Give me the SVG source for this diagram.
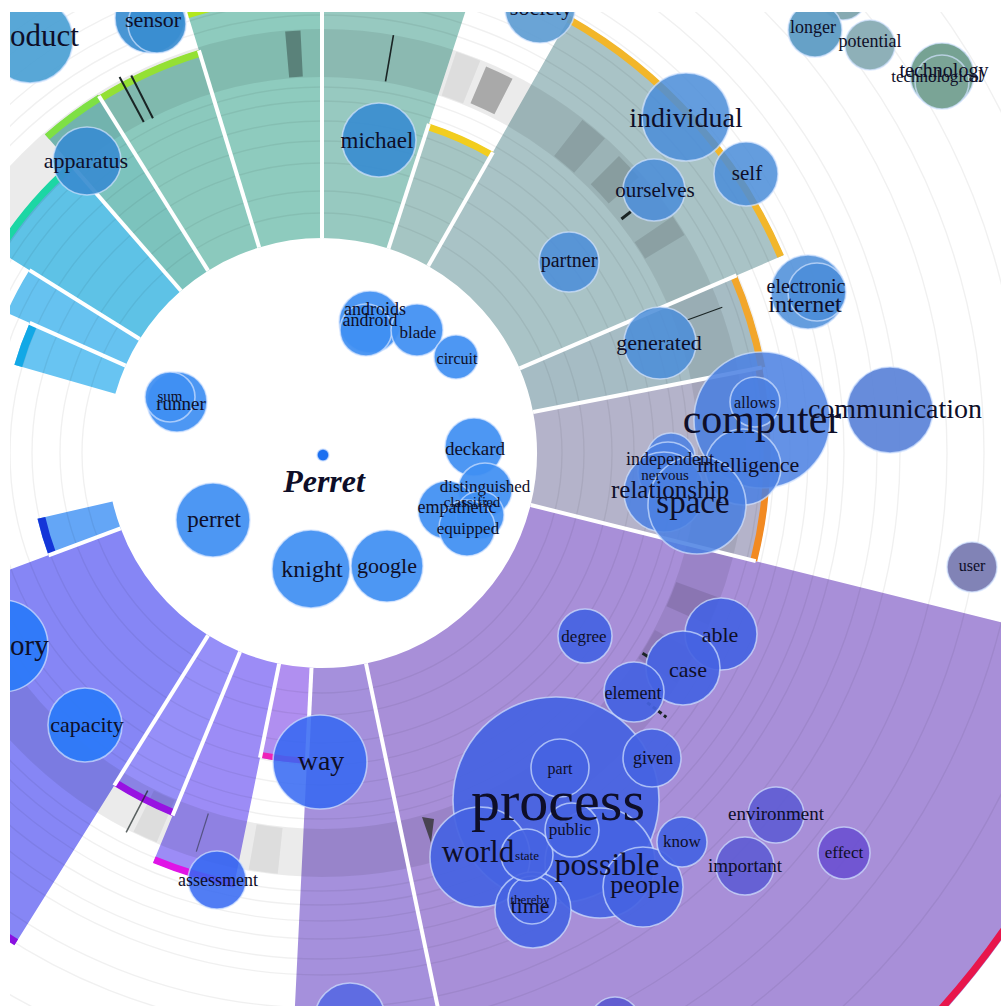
<svg xmlns="http://www.w3.org/2000/svg" width="1001" height="1006" viewBox="0 0 1001 1006">
<style>
.t{font-family:"Liberation Serif","Times New Roman","DejaVu Serif",serif;fill:#0e0e28;text-anchor:middle}
.nd circle{stroke:#d2e2ff;stroke-opacity:.7;stroke-width:1.6}
.b1{fill:#3f8ff2;fill-opacity:.93}
.b2{fill:#3a8dd0;fill-opacity:.92}
.b3{fill:#4a8dd8;fill-opacity:.86}
.b4{fill:#4a80e2;fill-opacity:.86}
.b5{fill:#4563e2;fill-opacity:.92}
.b6{fill:#5e5cd4;fill-opacity:.9}
.b8{fill:#3468f2;fill-opacity:.86}
.b9{fill:#2a7af8;fill-opacity:.92}
.sep line{stroke:#fff;stroke-width:4}
.mk line{stroke:#1a2424}
</style>
<rect width="1001" height="1006" fill="#fff"/>
<g id="wedges" fill="none">
<circle cx="322" cy="453" r="525.5" stroke="#a88fd8" stroke-width="621" stroke-dasharray="588.8 9999" transform="rotate(14 322 453)"/>
<circle cx="322" cy="453" r="457.5" stroke="#a590dc" stroke-width="485" stroke-dasharray="116.6 9999" transform="rotate(78.2 322 453)"/>
<circle cx="322" cy="453" r="263" stroke="#b08ff0" stroke-width="96" stroke-dasharray="39.9 9999" transform="rotate(92.8 322 453)"/>
<circle cx="322" cy="453" r="329" stroke="#9c8cf6" stroke-width="228" stroke-dasharray="62.6 9999" transform="rotate(101.5 322 453)"/>
<circle cx="322" cy="453" r="303.5" stroke="#968ff8" stroke-width="177" stroke-dasharray="50.85 9999" transform="rotate(112.4 322 453)"/>
<circle cx="322" cy="453" r="397.5" stroke="#8686f5" stroke-width="365" stroke-dasharray="260.2 9999" transform="rotate(122 322 453)"/>
<circle cx="322" cy="453" r="253.5" stroke="#64a6f6" stroke-width="77" stroke-dasharray="33.2 9999" transform="rotate(159.5 322 453)"/>
<circle cx="322" cy="453" r="267.5" stroke="#68c4f2" stroke-width="105" stroke-dasharray="37.35 9999" transform="rotate(-164 322 453)"/>
<circle cx="322" cy="453" r="280" stroke="#66c2f0" stroke-width="130" stroke-dasharray="39.1 9999" transform="rotate(-156 322 453)"/>
<circle cx="322" cy="453" r="299.5" stroke="#5ec2e6" stroke-width="169" stroke-dasharray="88.9 9999" transform="rotate(-148 322 453)"/>
<circle cx="322" cy="453" r="318.5" stroke="#7cc3bd" stroke-width="207" stroke-dasharray="50 9999" transform="rotate(-131 322 453)"/>
<circle cx="322" cy="453" r="318" stroke="#8bc9bd" stroke-width="206" stroke-dasharray="83.3 9999" transform="rotate(-122 322 453)"/>
<circle cx="322" cy="453" r="335.5" stroke="#8ecbbe" stroke-width="241" stroke-dasharray="99.5 9999" transform="rotate(-107 322 453)"/>
<circle cx="322" cy="453" r="347.5" stroke="#97c9c0" stroke-width="265" stroke-dasharray="109.2 9999" transform="rotate(-90 322 453)"/>
<circle cx="322" cy="453" r="280.5" stroke="#a5c5c3" stroke-width="131" stroke-dasharray="56.8 9999" transform="rotate(-72 322 453)"/>
<circle cx="322" cy="453" r="358.5" stroke="#a9c3c6" stroke-width="287" stroke-dasharray="232.8 9999" transform="rotate(-60.4 322 453)"/>
<circle cx="322" cy="453" r="333" stroke="#a6bcc4" stroke-width="236" stroke-dasharray="70.9 9999" transform="rotate(-23.2 322 453)"/>
<circle cx="322" cy="453" r="331.5" stroke="#b4b3ca" stroke-width="233" stroke-dasharray="144.7 9999" transform="rotate(-11 322 453)"/>
</g>
<g id="rings" fill="none" stroke="#000" stroke-opacity=".06" stroke-width="1.4">
<circle cx="322" cy="453" r="240"/><circle cx="322" cy="453" r="262"/><circle cx="322" cy="453" r="290"/>
<circle cx="322" cy="453" r="312"/><circle cx="322" cy="453" r="332"/><circle cx="322" cy="453" r="352"/>
<circle cx="322" cy="453" r="366"/><circle cx="322" cy="453" r="438"/><circle cx="322" cy="453" r="452"/>
<circle cx="322" cy="453" r="468"/><circle cx="322" cy="453" r="486"/><circle cx="322" cy="453" r="506"/>
<circle cx="322" cy="453" r="522"/><circle cx="322" cy="453" r="555"/><circle cx="322" cy="453" r="578"/>
<circle cx="322" cy="453" r="625"/><circle cx="322" cy="453" r="662"/><circle cx="322" cy="453" r="700"/>
<circle cx="322" cy="453" r="760"/><circle cx="322" cy="453" r="830"/><circle cx="322" cy="453" r="900"/>
</g>
<g id="band" fill="none" stroke="#000">
<circle cx="322" cy="453" r="400" stroke-opacity=".08" stroke-width="48"/>
<circle cx="322" cy="453" r="400" stroke-opacity=".3" stroke-width="46" stroke-dasharray="14.7 9999" transform="rotate(-95 322 453)"/>
<circle cx="322" cy="453" r="400" stroke-opacity=".06" stroke-width="46" stroke-dasharray="24.4 9999" transform="rotate(-71.5 322 453)"/>
<circle cx="322" cy="453" r="400" stroke-opacity=".28" stroke-width="40" stroke-dasharray="27.9 9999" transform="rotate(-67 322 453)"/>
<circle cx="322" cy="453" r="400" stroke-opacity=".1" stroke-width="46" stroke-dasharray="27.9 9999" transform="rotate(-52 322 453)"/>
<circle cx="322" cy="453" r="400" stroke-opacity=".12" stroke-width="40" stroke-dasharray="27.9 9999" transform="rotate(-45 322 453)"/>
<circle cx="322" cy="453" r="400" stroke-opacity=".1" stroke-width="46" stroke-dasharray="20.9 9999" transform="rotate(-34 322 453)"/>
<circle cx="322" cy="453" r="400" stroke-opacity=".1" stroke-width="46" stroke-dasharray="27.9 9999" transform="rotate(20 322 453)"/>
<circle cx="322" cy="453" r="400" stroke-opacity=".08" stroke-width="46" stroke-dasharray="34.9 9999" transform="rotate(28 322 453)"/>
<circle cx="322" cy="453" r="400" stroke-opacity=".06" stroke-width="46" stroke-dasharray="24.4 9999" transform="rotate(113 322 453)"/>
<circle cx="322" cy="453" r="400" stroke-opacity=".06" stroke-width="46" stroke-dasharray="27.9 9999" transform="rotate(96 322 453)"/>
</g>
<g id="arcs" fill="none">
<circle cx="322" cy="453" r="832" stroke="#e8164c" stroke-width="7" stroke-dasharray="933.4 9999" transform="rotate(14 322 453)"/>
<circle cx="322" cy="453" r="308" stroke="#ee22b8" stroke-width="6" stroke-dasharray="46.8 9999" transform="rotate(92.8 322 453)"/>
<circle cx="322" cy="453" r="440" stroke="#e014e6" stroke-width="7" stroke-dasharray="83.7 9999" transform="rotate(101.5 322 453)"/>
<circle cx="322" cy="453" r="389" stroke="#9812e2" stroke-width="7" stroke-dasharray="65.2 9999" transform="rotate(112.4 322 453)"/>
<circle cx="322" cy="453" r="577" stroke="#8a10e0" stroke-width="7" stroke-dasharray="377.7 9999" transform="rotate(122 322 453)"/>
<circle cx="322" cy="453" r="288" stroke="#1436d8" stroke-width="8" stroke-dasharray="37.7 9999" transform="rotate(159.5 322 453)"/>
<circle cx="322" cy="453" r="316" stroke="#12a8e6" stroke-width="8" stroke-dasharray="44.1 9999" transform="rotate(-164 322 453)"/>
<circle cx="322" cy="453" r="381" stroke="#1cd6a4" stroke-width="7" stroke-dasharray="113 9999" transform="rotate(-148 322 453)"/>
<circle cx="322" cy="453" r="419" stroke="#7ee044" stroke-width="7" stroke-dasharray="65.8 9999" transform="rotate(-131 322 453)"/>
<circle cx="322" cy="453" r="418" stroke="#94e034" stroke-width="7" stroke-dasharray="109.4 9999" transform="rotate(-122 322 453)"/>
<circle cx="322" cy="453" r="458" stroke="#b2e81c" stroke-width="6" stroke-dasharray="135.9 9999" transform="rotate(-107 322 453)"/>
<circle cx="322" cy="453" r="343" stroke="#f2cd1e" stroke-width="7" stroke-dasharray="69.4 9999" transform="rotate(-72 322 453)"/>
<circle cx="322" cy="453" r="499" stroke="#f2b62a" stroke-width="7" stroke-dasharray="324 9999" transform="rotate(-60.4 322 453)"/>
<circle cx="322" cy="453" r="448" stroke="#f2a62a" stroke-width="7" stroke-dasharray="95.4 9999" transform="rotate(-23.2 322 453)"/>
<circle cx="322" cy="453" r="445" stroke="#f28a22" stroke-width="7" stroke-dasharray="194.2 9999" transform="rotate(-11 322 453)"/>
</g>
<g id="connectors" class="sep">
<line x1="537" y1="453" x2="769" y2="453" transform="rotate(14 322 453)"/>
<line x1="537" y1="453" x2="1042" y2="453" transform="rotate(78.2 322 453)"/>
<line x1="537" y1="453" x2="633" y2="453" transform="rotate(92.8 322 453)"/>
<line x1="537" y1="453" x2="633" y2="453" transform="rotate(101.5 322 453)"/>
<line x1="537" y1="453" x2="714" y2="453" transform="rotate(112.4 322 453)"/>
<line x1="537" y1="453" x2="714" y2="453" transform="rotate(122 322 453)"/>
<line x1="537" y1="453" x2="614" y2="453" transform="rotate(159.5 322 453)"/>
<line x1="537" y1="453" x2="642" y2="453" transform="rotate(-156 322 453)"/>
<line x1="537" y1="453" x2="667" y2="453" transform="rotate(-148 322 453)"/>
<line x1="537" y1="453" x2="706" y2="453" transform="rotate(-131 322 453)"/>
<line x1="537" y1="453" x2="743" y2="453" transform="rotate(-122 322 453)"/>
<line x1="537" y1="453" x2="743" y2="453" transform="rotate(-107 322 453)"/>
<line x1="537" y1="453" x2="778" y2="453" transform="rotate(-90 322 453)"/>
<line x1="537" y1="453" x2="668" y2="453" transform="rotate(-72 322 453)"/>
<line x1="537" y1="453" x2="668" y2="453" transform="rotate(-60.4 322 453)"/>
<line x1="537" y1="453" x2="773" y2="453" transform="rotate(-23.2 322 453)"/>
<line x1="537" y1="453" x2="770" y2="453" transform="rotate(-11 322 453)"/>
</g>
<g id="marks" class="mk">
<line x1="699" y1="453" x2="746" y2="453" stroke-width="1.6" transform="rotate(-80.3 322 453)"/>
<line x1="698" y1="453" x2="749" y2="453" stroke-width="2" transform="rotate(-118.3 322 453)"/>
<line x1="697" y1="453" x2="745" y2="453" stroke-width="2" transform="rotate(-116.8 322 453)"/>
<line x1="710" y1="453" x2="748" y2="453" stroke-width="1.2" transform="rotate(-20 322 453)"/>
<line x1="702" y1="453" x2="714" y2="453" stroke-width="3" transform="rotate(-38 322 453)"/>
<line x1="700" y1="453" x2="708" y2="453" stroke-width="3" transform="rotate(32 322 453)"/>
<line x1="732" y1="453" x2="756" y2="453" stroke-width="3" stroke-dasharray="4 3" transform="rotate(37.5 322 453)"/>
<line x1="702" y1="453" x2="749" y2="453" stroke-width="1.5" stroke-opacity=".7" transform="rotate(117.3 322 453)"/>
<line x1="700" y1="453" x2="740" y2="453" stroke-width="1.2" stroke-opacity=".5" transform="rotate(107.5 322 453)"/>
<polygon points="422,817 434,819 431,843" fill="#333" fill-opacity=".8"/>
</g>
<circle cx="322" cy="453" r="213" fill="#fff"/>
<g id="nodes" class="nd">
<g id="node-product"><circle cx="30" cy="40" r="43" fill="#4aa0d4" fill-opacity=".92"/></g>
<g id="node-sensor"><circle cx="150" cy="18" r="35" class="b2"/><circle cx="157" cy="24" r="29" class="b2"/></g>
<g id="node-apparatus"><circle cx="87" cy="161" r="34" class="b2"/></g>
<g id="node-michael"><circle cx="379" cy="140" r="37" class="b2"/></g>
<g id="node-society"><circle cx="540" cy="8" r="35" fill="#5a9ad2" fill-opacity=".9"/></g>
<g id="node-individual"><circle cx="686" cy="117" r="44" class="b3"/></g>
<g id="node-self"><circle cx="746" cy="174" r="32" class="b3"/></g>
<g id="node-ourselves"><circle cx="654" cy="190" r="31" class="b3"/></g>
<g id="node-partner"><circle cx="569" cy="262" r="30" class="b3"/></g>
<g id="node-generated"><circle cx="660" cy="343" r="36" class="b3"/></g>
<g id="node-electronic"><circle cx="808" cy="292" r="37" class="b3"/><circle cx="817" cy="292" r="29" class="b3"/></g>
<g id="node-top"><circle cx="843" cy="-4" r="24" fill="#86aab2"/></g>
<g id="node-longer"><circle cx="815" cy="30" r="27" fill="#5e9cc4" fill-opacity=".95"/></g>
<g id="node-potential"><circle cx="870" cy="45" r="25" fill="#88acb4" fill-opacity=".95"/></g>
<g id="node-technology"><circle cx="942" cy="75" r="32" fill="#6a9a8a" fill-opacity=".92"/><circle cx="942" cy="82" r="27" fill="#7aa496"/></g>
<g id="node-communication"><circle cx="890" cy="410" r="43" fill="#5a82d8" fill-opacity=".92"/></g>
<g id="node-computer"><circle cx="762" cy="420" r="68" class="b4"/></g>
<g id="node-allows"><circle cx="755" cy="402" r="25" class="b4"/></g>
<g id="node-intelligence"><circle cx="743" cy="467" r="38" class="b4"/></g>
<g id="node-independent"><circle cx="671" cy="457" r="24" class="b4"/></g>
<g id="node-nervous"><circle cx="668" cy="472" r="30" class="b4"/></g>
<g id="node-relationship"><circle cx="664" cy="492" r="40" class="b4"/></g>
<g id="node-space"><circle cx="697" cy="505" r="49" class="b4"/></g>
<g id="node-user"><circle cx="972" cy="567" r="25" fill="#7a7cb2" fill-opacity=".95"/></g>
<g id="node-degree"><circle cx="585" cy="636" r="27" class="b5"/></g>
<g id="node-able"><circle cx="721" cy="634" r="36" class="b5"/></g>
<g id="node-case"><circle cx="683" cy="668" r="37" class="b5"/></g>
<g id="node-element"><circle cx="634" cy="692" r="30" class="b5"/></g>
<g id="node-process"><circle cx="556" cy="800" r="103" class="b5"/></g>
<g id="node-possible"><circle cx="600" cy="863" r="55" class="b5"/></g>
<g id="node-world"><circle cx="480" cy="857" r="50" class="b5"/></g>
<g id="node-people"><circle cx="643" cy="887" r="40" class="b5"/></g>
<g id="node-time"><circle cx="533" cy="910" r="38" class="b5"/><circle cx="532" cy="900" r="24" class="b5"/></g>
<g id="node-state"><circle cx="527" cy="855" r="26" class="b5"/></g>
<g id="node-part"><circle cx="560" cy="768" r="29" class="b5"/></g>
<g id="node-public"><circle cx="572" cy="830" r="27" class="b5"/></g>
<g id="node-given"><circle cx="652" cy="758" r="29" class="b5"/></g>
<g id="node-know"><circle cx="682" cy="842" r="25" class="b5"/></g>
<g id="node-environment"><circle cx="776" cy="815" r="28" class="b6"/></g>
<g id="node-important"><circle cx="745" cy="866" r="29" class="b6"/></g>
<g id="node-effect"><circle cx="844" cy="853" r="26" fill="#6a50d2" fill-opacity=".9"/></g>
<g id="node-bottom1"><circle cx="615" cy="1022" r="25" fill="#5a58d0" fill-opacity=".9"/></g>
<g id="node-bottom2"><circle cx="350" cy="1018" r="35" fill="#5868e2" fill-opacity=".9"/></g>
<g id="node-way"><circle cx="320" cy="762" r="47" class="b8"/></g>
<g id="node-assessment"><circle cx="217" cy="880" r="29" class="b8"/></g>
<g id="node-capacity"><circle cx="85" cy="725" r="37" class="b9"/></g>
<g id="node-ory"><circle cx="2" cy="646" r="46" class="b9"/></g>
<g id="node-perret"><circle cx="213" cy="520" r="37" class="b1"/></g>
<g id="node-knight"><circle cx="311" cy="569" r="39" class="b1"/></g>
<g id="node-google"><circle cx="387" cy="566" r="36" class="b1"/></g>
<g id="node-runner"><circle cx="177" cy="402" r="30" class="b1"/><circle cx="170" cy="397" r="25" class="b1"/></g>
<g id="node-androids"><circle cx="370" cy="322" r="31" class="b1"/><circle cx="366" cy="330" r="26" class="b1"/></g>
<g id="node-blade"><circle cx="417" cy="330" r="26" class="b1"/></g>
<g id="node-circuit"><circle cx="456" cy="357" r="22" class="b1"/></g>
<g id="node-deckard"><circle cx="474" cy="447" r="29" class="b1"/></g>
<g id="node-distinguished"><circle cx="485" cy="490" r="27" class="b1"/></g>
<g id="node-classified"><circle cx="447" cy="510" r="29" class="b1"/></g>
<g id="node-empathetic"><circle cx="480" cy="515" r="24" class="b1"/></g>
<g id="node-equipped"><circle cx="467" cy="528" r="28" class="b1"/></g>
<g id="node-Perret"><circle cx="323" cy="455" r="6" fill="#1b6ff0" stroke="none"/></g>
</g>
<g id="labels" class="t">
<text x="10" y="46" font-size="31" style="text-anchor:start">oduct</text>
<text x="153" y="27" font-size="22">sensor</text>
<text x="86" y="168" font-size="22">apparatus</text>
<text x="377" y="148" font-size="23">michael</text>
<text x="541" y="15" font-size="22">society</text>
<text x="686" y="127" font-size="28">individual</text>
<text x="747" y="180" font-size="21">self</text>
<text x="655" y="197" font-size="21">ourselves</text>
<text x="569" y="267" font-size="20">partner</text>
<text x="659" y="350" font-size="22">generated</text>
<text x="806" y="293" font-size="20">electronic</text>
<text x="805" y="312" font-size="24">internet</text>
<text x="813" y="33" font-size="18">longer</text>
<text x="870" y="47" font-size="18">potential</text>
<text x="944" y="77" font-size="20">technology</text>
<text x="937" y="82" font-size="17">technological</text>
<text x="762" y="433" font-size="42">computer</text>
<text x="755" y="408" font-size="16">allows</text>
<text x="748" y="472" font-size="22">intelligence</text>
<text x="895" y="418" font-size="28">communication</text>
<text x="670" y="465" font-size="18">independent</text>
<text x="665" y="480" font-size="15">nervous</text>
<text x="670" y="498" font-size="25">relationship</text>
<text x="693" y="513" font-size="33">space</text>
<text x="972" y="571" font-size="16">user</text>
<text x="584" y="642" font-size="17">degree</text>
<text x="720" y="642" font-size="22">able</text>
<text x="688" y="677" font-size="22">case</text>
<text x="633" y="699" font-size="18">element</text>
<text x="558" y="820" font-size="58">process</text>
<text x="560" y="774" font-size="16">part</text>
<text x="653" y="764" font-size="18">given</text>
<text x="570" y="835" font-size="17">public</text>
<text x="478" y="862" font-size="31">world</text>
<text x="527" y="860" font-size="13">state</text>
<text x="607" y="875" font-size="32">possible</text>
<text x="645" y="893" font-size="26">people</text>
<text x="682" y="847" font-size="17">know</text>
<text x="530" y="904" font-size="13">thereby</text>
<text x="530" y="913" font-size="22">time</text>
<text x="776" y="820" font-size="19">environment</text>
<text x="745" y="872" font-size="19">important</text>
<text x="844" y="858" font-size="17">effect</text>
<text x="321" y="770" font-size="28">way</text>
<text x="218" y="886" font-size="18">assessment</text>
<text x="87" y="732" font-size="22">capacity</text>
<text x="10" y="655" font-size="29" style="text-anchor:start">ory</text>
<text x="214" y="527" font-size="23">perret</text>
<text x="312" y="577" font-size="24">knight</text>
<text x="387" y="573" font-size="22">google</text>
<text x="170" y="401" font-size="15">sum</text>
<text x="181" y="410" font-size="19">runner</text>
<text x="375" y="315" font-size="18">androids</text>
<text x="370" y="326" font-size="18">android</text>
<text x="418" y="338" font-size="17">blade</text>
<text x="457" y="364" font-size="16">circuit</text>
<text x="475" y="455" font-size="19">deckard</text>
<text x="485" y="492" font-size="17">distinguished</text>
<text x="472" y="507" font-size="15">classified</text>
<text x="457" y="513" font-size="18">empathetic</text>
<text x="468" y="534" font-size="17">equipped</text>
<text x="324" y="492" font-size="32" font-style="italic" font-weight="bold">Perret</text>
</g>
<rect x="0" y="0" width="1001" height="12" fill="#fff"/>
<rect x="0" y="0" width="10" height="1006" fill="#fff"/>
</svg>
